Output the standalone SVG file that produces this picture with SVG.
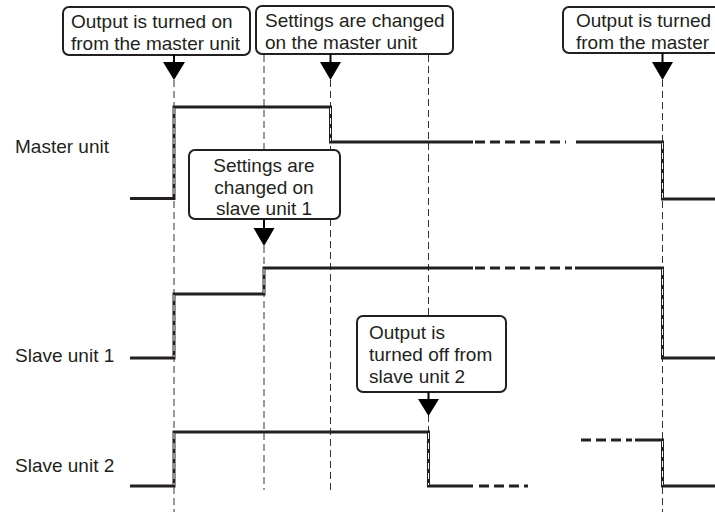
<svg xmlns="http://www.w3.org/2000/svg" width="715" height="512" viewBox="0 0 715 512">
<style>
.guide{stroke:#333;stroke-width:1;stroke-dasharray:7 4;fill:none}
.sig{stroke:#231f20;stroke-width:3;fill:none;stroke-linejoin:miter}
.sigd{stroke:#231f20;stroke-width:3;fill:none;stroke-dasharray:10 5}
.edge{stroke:#fff;stroke-width:1;stroke-dasharray:6 4;fill:none}
.box{fill:#fff;stroke:#231f20;stroke-width:2}
.t{font-family:"Liberation Sans",Arial,sans-serif;font-size:19px;fill:#231f20}
.arr{fill:#000}
.stem{stroke:#000;stroke-width:2}
</style>
<rect width="715" height="512" fill="#fff"/>
<g id="guides">
<line class="guide" x1="174" y1="80" x2="174" y2="512"/>
<line class="guide" x1="264" y1="55" x2="264" y2="150"/>
<line class="guide" x1="264" y1="246" x2="264" y2="490"/>
<line class="guide" x1="330.5" y1="80" x2="330.5" y2="150"/>
<line class="guide" x1="330.5" y1="219" x2="330.5" y2="490"/>
<line class="guide" x1="428.5" y1="55" x2="428.5" y2="316"/>
<line class="guide" x1="428.5" y1="415" x2="428.5" y2="486"/>
<line class="guide" x1="662.5" y1="80" x2="662.5" y2="512"/>
</g>
<g id="connectors">
<path class="sig" d="M130 198.5H174V107H330.5V142H473"/>
<path class="sigd" d="M475 142H566"/>
<path class="sig" d="M576 142H662.5V199H715"/>
<path class="sig" d="M130 358H174V294H264V268H473"/>
<path class="sigd" d="M475 268H572"/>
<path class="sig" d="M575 268H662.5V358H715"/>
<path class="sig" d="M130 486H174V432H428.5V486H473"/>
<path class="sigd" d="M479 486H528"/>
<path class="sigd" d="M581 440H632"/>
<path class="sig" d="M635 440H662.5V486H715"/>
<line class="edge" x1="174" y1="108" x2="174" y2="198"/>
<line class="edge" x1="174" y1="295" x2="174" y2="357"/>
<line class="edge" x1="174" y1="433" x2="174" y2="485"/>
<line class="edge" x1="264" y1="269" x2="264" y2="293"/>
<line class="edge" x1="330.5" y1="108" x2="330.5" y2="141"/>
<line class="edge" x1="428.5" y1="433" x2="428.5" y2="485"/>
<line class="edge" x1="662.5" y1="143" x2="662.5" y2="198"/>
<line class="edge" x1="662.5" y1="269" x2="662.5" y2="357"/>
<line class="edge" x1="662.5" y1="441" x2="662.5" y2="485"/>
</g>
<g id="label-master"><text class="t" x="15" y="153">Master unit</text></g>
<g id="label-slave1"><text class="t" x="15" y="362">Slave unit 1</text></g>
<g id="label-slave2"><text class="t" x="15" y="472">Slave unit 2</text></g>
<g id="box1">
<rect class="box" x="63" y="7" width="187" height="48" rx="6"/>
<text class="t" x="71" y="28">Output is turned on</text>
<text class="t" x="71" y="50">from the master unit</text>
<line class="stem" x1="174" y1="55" x2="174" y2="63"/>
<polygon class="arr" points="163,62 185,62 174,80"/>
</g>
<g id="box2">
<rect class="box" x="256" y="6" width="197" height="48" rx="6"/>
<text class="t" x="265" y="27">Settings are changed</text>
<text class="t" x="265" y="49">on the master unit</text>
<line class="stem" x1="330.5" y1="54" x2="330.5" y2="63"/>
<polygon class="arr" points="320,62 341,62 330.5,80"/>
</g>
<g id="box3">
<rect class="box" x="563" y="7" width="170" height="46" rx="6"/>
<text class="t" x="576" y="27">Output is turned</text>
<text class="t" x="576" y="49">from the master</text>
<line class="stem" x1="662.5" y1="53" x2="662.5" y2="63"/>
<polygon class="arr" points="652,62 673,62 662.5,80"/>
</g>
<g id="box4">
<rect class="box" x="189" y="150" width="151" height="69" rx="6"/>
<text class="t" x="264" y="172" text-anchor="middle">Settings are</text>
<text class="t" x="264" y="193.5" text-anchor="middle">changed on</text>
<text class="t" x="264" y="215" text-anchor="middle">slave unit 1</text>
<line class="stem" x1="264" y1="219" x2="264" y2="229"/>
<polygon class="arr" points="253.5,228 274.5,228 264,246"/>
</g>
<g id="box5">
<rect class="box" x="357" y="316" width="149" height="76" rx="6"/>
<text class="t" x="369" y="339">Output is</text>
<text class="t" x="369" y="361">turned off from</text>
<text class="t" x="369" y="383">slave unit 2</text>
<line class="stem" x1="428.5" y1="392" x2="428.5" y2="400"/>
<polygon class="arr" points="418,399 439,399 428.5,416"/>
</g>
</svg>
